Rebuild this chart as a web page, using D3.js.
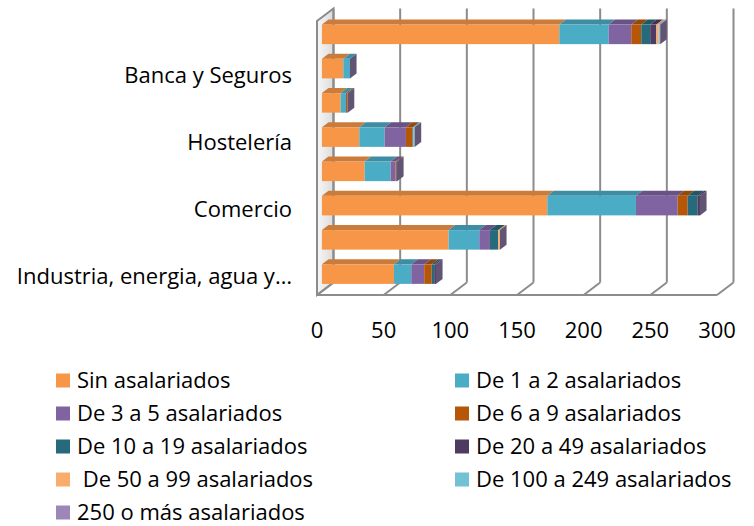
<!DOCTYPE html>
<html>
<head>
<meta charset="utf-8">
<script src="https://cdn.jsdelivr.net/npm/d3@7"></script>
<style>
  body { margin: 0; background: #fff; }
  text { font-family: "Open Sans", sans-serif; fill: #000; white-space: pre; }
</style>
</head>
<body>
<div id="chart"></div>
<script>
// categories from bottom to top (only every second one gets a label)
var categories = ["Industria, energia, agua y…", "Construcción", "Comercio", "Transporte y almacenamiento",
                  "Hostelería", "Información y comunicaciones", "Banca y Seguros", "Otros servicios"];
var seriesNames = ["Sin asalariados", "De 1 a 2 asalariados", "De 3 a 5 asalariados", "De 6 a 9 asalariados",
                   "De 10 a 19 asalariados", "De 20 a 49 asalariados", " De 50 a 99 asalariados",
                   "De 100 a 249 asalariados", "250 o más asalariados"];
var seriesColors = ["#F79646", "#4BACC6", "#8064A2", "#B65708", "#276A7C", "#4D3B62", "#F9AD6C", "#72C1D4", "#9C87B8"];

var sinAsalariados = [54, 95, 169, 32, 28, 14, 16, 178];
var de1a2   = [13, 23, 66.5, 19.5, 19, 4, 5, 37];
var de3a5   = [9.7, 8, 31.3, 3.7, 16, 0, 0, 17];
var de6a9   = [5.6, 0, 7.5, 0.6, 5, 1, 0, 7.5];
var de10a19 = [1.9, 6.3, 7.5, 0, 0.5, 0, 0, 6.7];
var de20a49 = [1.3, 0, 1.7, 0.5, 0, 0.3, 0, 4.6];
var de50a99 = [0, 1.2, 0, 0, 0, 0, 0, 1.7];
var de100a249 = [0, 0, 0, 0, 1, 0, 0, 0.7];
var de250 = [0, 0, 0, 0, 0, 0, 0, 0.5];
var xTicks = [0, 50, 100, 150, 200, 250, 300];

var series = [sinAsalariados, de1a2, de3a5, de6a9, de10a19, de20a49, de50a99, de100a249, de250];
var keys = seriesNames;
var data = categories.map(function(c, i) {
    var row = {cat: c, idx: i};
    keys.forEach(function(k, j) { row[k] = series[j][i]; });
    return row;
});
var stacked = d3.stack().keys(keys)(data);

var w = 754, h = 526, fs = 22;
var svg = d3.select('#chart').append('svg')
    .attr('width', w)
    .attr('height', h);

// 3d box: front plane and depth offset
var fx0 = 317, fyB = 295, fyT = 21, DX = 16.5, DY = -12.5;
var xscale = d3.scaleLinear().domain([0, 300]).range([0, 400]);
var yscale = d3.scaleBand().domain(d3.range(categories.length))
    .range([fyB, fyT]).paddingInner(0.43).paddingOuter(0.215);
var ylabel = d3.scaleBand().domain(d3.range(categories.length)).range([293, 25]);

function proj(v, y, t) { return [fx0 + xscale(v) + t * DX, y + t * DY]; }
function poly(pts) { return pts.map(function(p) { return p.join(','); }).join(' '); }

var grid = svg.append('g').attr('class', 'grid');

// left wall
var lg = svg.append('defs').append('linearGradient').attr('id', 'wall')
    .attr('x1', 0).attr('x2', 1).attr('y1', 0).attr('y2', 0);
lg.append('stop').attr('offset', 0).attr('stop-color', '#f7f7f7');
lg.append('stop').attr('offset', 1).attr('stop-color', '#dcdcdc');
grid.append('polygon')
    .attr('points', poly([proj(0, fyB, 0), proj(0, fyT, 0), proj(0, fyT, 1), proj(0, fyB, 1)]))
    .attr('fill', 'url(#wall)').attr('stroke', '#8c8c8c').attr('stroke-width', 2);

// back wall gridlines and floor lines
xTicks.forEach(function(v) {
    var b0 = proj(v, fyB, 1), b1 = proj(v, fyT, 1), f0 = proj(v, fyB, 0);
    grid.append('line').attr('x1', b0[0]).attr('y1', b0[1]).attr('x2', b1[0]).attr('y2', b1[1])
        .attr('stroke', '#8c8c8c').attr('stroke-width', 2);
    grid.append('line').attr('x1', b0[0]).attr('y1', b0[1]).attr('x2', f0[0]).attr('y2', f0[1])
        .attr('stroke', '#8c8c8c').attr('stroke-width', 2);
});
var fl0 = proj(0, fyB, 0), fl1 = proj(300, fyB, 0);
grid.append('line').attr('x1', fl0[0]).attr('y1', fl0[1]).attr('x2', fl1[0]).attr('y2', fl1[1])
    .attr('stroke', '#8c8c8c').attr('stroke-width', 2);

// bars
var t0 = 0.3, t1 = 0.7, bw = yscale.bandwidth();
var bars = svg.append('g').attr('class', 'bars');
data.forEach(function(d, i) {
    var yTop = yscale(i) + t0 * DY;
    var yT = yscale(i);
    stacked.forEach(function(s, j) {
        var v0 = s[i][0], v1 = s[i][1];
        var col = d3.color(seriesColors[j]);
        var a = proj(v0, yT, t0), b = proj(v1, yT, t0);
        if (v1 > v0) {
            bars.append('rect').attr('x', a[0]).attr('y', yTop)
                .attr('width', b[0] - a[0]).attr('height', bw).attr('fill', col);
            bars.append('polygon')
                .attr('points', poly([a, b, proj(v1, yT, t1), proj(v0, yT, t1)]))
                .attr('fill', col.darker(0.55));
        }
        if (j == stacked.length - 1) {
            bars.append('polygon')
                .attr('points', poly([b, proj(v1, yT, t1), proj(v1, yT + bw, t1), proj(v1, yT + bw, t0)]))
                .attr('fill', col.darker(1.3));
        }
    });
});

// x axis labels
svg.append('g').selectAll('text')
    .data(xTicks).enter().append('text')
    .attr('x', function(v) { return fx0 + xscale(v); })
    .attr('y', 338)
    .attr('text-anchor', 'middle')
    .attr('font-size', fs)
    .text(function(v) { return v; });

// category labels, every second one
svg.append('g').selectAll('text')
    .data(categories.filter(function(c, i) { return i % 2 == 0; })).enter().append('text')
    .attr('x', 292)
    .attr('y', function(c) { var i = categories.indexOf(c); return ylabel(i) + ylabel.bandwidth() / 2 + 7.5; })
    .attr('text-anchor', 'end')
    .attr('font-size', fs)
    .text(function(c) { return c; });

// legend
var legend = svg.append('g').selectAll('g')
    .data(seriesNames).enter().append('g')
    .attr('transform', function(d, i) {
        var col = i % 2, row = Math.floor(i / 2);
        return 'translate(' + (col ? 455 : 56) + ',' + (380.5 + row * 33) + ')';
    });
legend.append('rect').attr('x', 0).attr('y', -7).attr('width', 14).attr('height', 14)
    .attr('fill', function(d, i) { return seriesColors[i]; });
legend.append('text').attr('x', 21).attr('y', 7.5)
    .attr('font-size', fs)
    .text(function(d) { return d; });
</script>
</body>
</html>
